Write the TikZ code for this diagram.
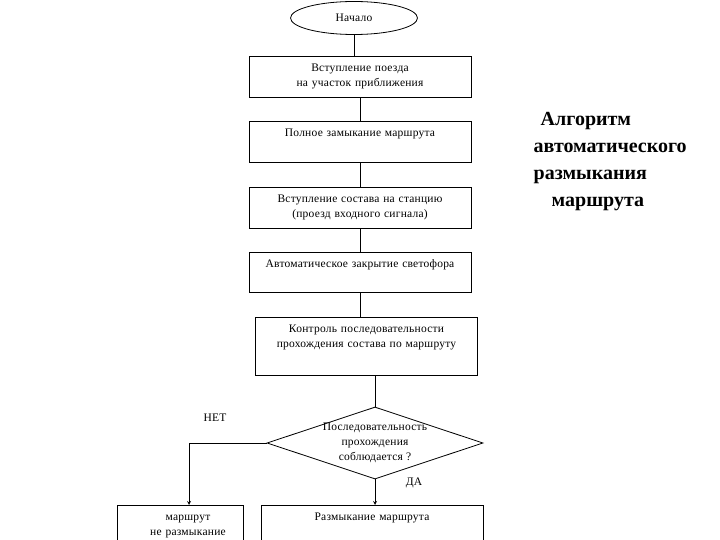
\documentclass[tikz,border=0pt]{standalone}
\usepackage{fontspec}
\setmainfont[LetterSpace=2]{Liberation Serif}
\newfontfamily\titlefont{Liberation Serif}
\usetikzlibrary{shapes.geometric, arrows}
\tikzstyle{start} = [ellipse, draw=black, minimum width=127pt, minimum height=33pt, inner sep=0pt]
\tikzstyle{stepbox} = [rectangle, draw=black, anchor=north, text width=214pt, inner xsep=4pt, inner ysep=6pt, align=center, text height=9pt, text depth=20pt]
\tikzstyle{decision} = [diamond, draw=black, shape aspect=3, minimum width=216pt, minimum height=72pt, inner xsep=-6pt, inner ysep=-4pt, align=center]
\tikzstyle{arrow1} = [->, >=stealth]

\begin{document}
\begin{tikzpicture}[x=1pt, y=-1pt, line width=0.8pt, font=\fontsize{11.5}{15}\selectfont]

    \useasboundingbox (0,0) rectangle (720,540);

    \node (start) [start] at (354,18) {Начало};
    \node (step1) [stepbox] at (360,56) {Вступление поезда\\на участок приближения};
    \node (step2) [stepbox] at (360,121) {Полное замыкание маршрута};
    \node (step3) [stepbox] at (360,187) {Вступление состава на станцию\\(проезд входного сигнала)};
    \node (step4) [stepbox, text depth=19pt] at (360,252) {Автоматическое закрытие светофора};
    \node (step5) [stepbox, text depth=37pt] at (366.5,317) {Контроль последовательности\\прохождения состава по маршруту};
    \node (cond) [decision] at (375,443) {Последовательность\\прохождения\\соблюдается ?};
    \node (nofree) [stepbox, text width=118pt, text depth=24pt] at (180,505) {\hspace*{16pt}маршрут\\\hspace*{16pt}не размыкание};
    \node (free) [stepbox, text depth=24pt] at (372,505) {Размыкание маршрута};

    \node (no) at (215,418) {НЕТ};
    \node (yes) at (414,483) {ДА};

    \node (title) [anchor=north west, align=left, font=\titlefont\bfseries\fontsize{20}{27}\selectfont] at (530,109)
        {\hspace*{7pt}Алгоритм\\автоматического\\размыкания\\\hspace*{18pt}маршрута};

    \draw (start.south) -- (start.south |- step1.north);
    \draw (step1) -- (step2);
    \draw (step2) -- (step3);
    \draw (step3) -- (step4);
    \draw (step4.south) -- (step4.south |- step5.north);
    \draw (cond.north |- step5.south) -- (cond.north);

    \draw [arrow1] (cond.west) -| ([xshift=9pt]nofree.north);
    \draw [arrow1] (cond.south) -- (cond.south |- free.north);

\end{tikzpicture}
\end{document}
